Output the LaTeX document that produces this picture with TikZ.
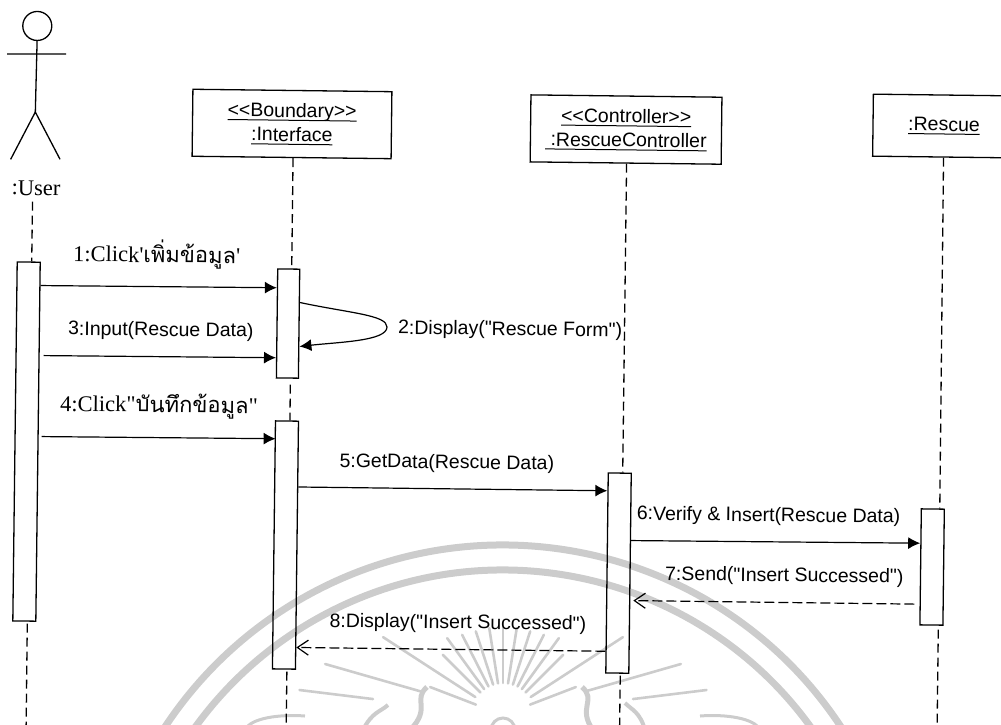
\documentclass[tikz,border=0pt]{standalone}
\usepackage{fontspec}
\usetikzlibrary{arrows.meta,calc}
\newfontfamily\umlfont{Liberation Sans}
\newfontfamily\actfont{Liberation Serif}
\newfontfamily\thaifont[Script=Thai]{Loma}
\newsavebox\namebox
\newcommand{\objname}[1]{\sbox\namebox{#1}\rlap{\rule[-3.5pt]{\wd\namebox}{1pt}}\usebox\namebox}

\tikzset{
  objbox/.style={draw, line width=1.3pt, align=center, inner sep=0pt, font=\umlfont\fontsize{19.5}{24}\selectfont},
  actbar/.style={draw, line width=1.3pt, minimum width=23pt, inner sep=0pt},
  msg/.style={line width=1.2pt, -{Latex[length=12pt,width=12pt]}},
  reply/.style={line width=1.2pt, dash pattern=on 10pt off 4pt, -{Straight Barb[length=11pt,width=15pt]}},
  life/.style={line width=1.3pt, dash pattern=on 9pt off 5pt},
  stick/.style={line width=1.3pt},
  msglabel/.style={font=\umlfont\fontsize{19.5}{24}\selectfont, inner sep=0pt},
  actlabel/.style={font=\actfont\fontsize{22.5}{26}\selectfont, inner sep=0pt},
  seal/.style={color=black!20, line width=7pt},
  sealray/.style={color=black!20, line width=2.6pt, line cap=round},
}

\begin{document}
\begin{tikzpicture}[x=1pt,y=-1pt]
  \useasboundingbox (0,0) rectangle (1001,724);
  \clip (0,0) rectangle (1001,724);

  % seal behind the diagram
  \coordinate (sealcentre) at (503,950);
  \coordinate (sun) at (503,715);
  \draw[seal] (sealcentre) ++(-30:405) arc (-30:-150:405);
  \draw[seal] (sealcentre) ++(-30:380) arc (-30:-150:380);
  \foreach \a/\ri/\ro in {-90/32/88,-81/32/88,-72/32/88,-63/32/90,-54/32/95,-45/32/85,
                          -99/32/88,-108/32/88,-117/32/90,-126/32/95,-135/32/85,
                          -147/33/143,-33/33/143,-159/29/78,-21/29/78,-164/86/185,-16/86/185,-173/131/205,-7/131/205} {
    \draw[sealray] (sun) ++(\a:\ri) -- ++(\a:\ro-\ri);
  }
  \draw[seal, line width=3pt] (491,730) arc (180:360:12);
  \draw[seal, line width=5pt] (427,687) .. controls (412,700) and (432,708) .. (410,730);
  \draw[seal, line width=5pt] (582,687) .. controls (597,700) and (577,708) .. (593,730);
  \draw[seal, line width=4pt] (388,705) .. controls (380,712) and (372,712) .. (363,730);
  \draw[seal, line width=4pt] (625,703) .. controls (632,710) and (640,712) .. (645,730);
  \draw[seal, line width=3pt] (245,730) .. controls (250,718) and (280,714) .. (305,716);
  \draw[seal, line width=3pt] (700,716) .. controls (725,714) and (755,718) .. (760,730);

  \begin{scope}[rotate=-0.7, every node/.append style={transform shape}]
    % actor
    \node[circle, draw, line width=1.3pt, minimum size=29pt, inner sep=0pt] (head) at (37.6,25.5) {};
    \coordinate (armL) at (7.7,54);
    \coordinate (armR) at (66.7,53.2);
    \coordinate (hip) at (36.7,111.6);
    \coordinate (legL) at (12.6,159.2);
    \coordinate (legR) at (62,158.6);
    \draw[stick] (armL) -- (armR);
    \draw[stick] (head.south) -- (hip);
    \draw[stick] (legL) -- (hip) -- (legR);
    \node[actlabel] (userlabel) at (38.3,187.6) {:User};

    % objects
    \node[objbox, minimum width=199pt, minimum height=67pt] (iface) at (293.5,120.4) {\objname{<<Boundary>>}\\\objname{:Interface}};
    \node[objbox, minimum width=191pt, minimum height=67pt] (ctrl) at (627.6,121.9) {\objname{<<Controller>>}\\\objname{\ :RescueController}};
    \node[objbox, minimum width=142pt, minimum height=62pt] (rescue) at (945.5,114.5) {\objname{:Rescue}};

    % activation bars
    \node[actbar, minimum height=359pt] (userbar) at (31.9,441.2) {};
    \node[actbar, minimum width=22pt, minimum height=109pt] (ifacebarA) at (292,320) {};
    \node[actbar, minimum height=248pt] (ifacebarB) at (292.1,541.5) {};
    \node[actbar, minimum height=200pt] (ctrlbar) at (625.5,565.5) {};
    \node[actbar, minimum height=116pt] (rescuebar) at (939,555.6) {};

    % lifelines
    \coordinate (userend) at (35,740);
    \coordinate (ifaceend) at (295,740);
    \coordinate (ctrlend) at (628.5,740);
    \coordinate (rescueend) at (946,740);
    \draw[life] ($(userlabel.south)+(-3.3,6)$) -- ($(userbar.north)+(3,0)$);
    \draw[life] ($(userbar.south)+(3,2)$) -- (userend);
    \draw[life] ($(iface.south)+(1.5,0)$) -- ($(ifacebarA.north)+(3,0)$);
    \draw[life] ($(ifacebarA.south)+(3,6)$) -- ($(ifacebarB.north)+(3,0)$);
    \draw[life] ($(ifacebarB.south)+(3,2)$) -- (ifaceend);
    \draw[life] ($(ctrl.south)+(1,0)$) -- ($(ctrlbar.north)+(3,0)$);
    \draw[life] ($(ctrlbar.south)+(3,2)$) -- (ctrlend);
    \draw[life] (rescue.south) -- ($(rescuebar.north)+(7,0)$);
    \draw[life] ($(rescuebar.south)+(7,4)$) -- (rescueend);

    % messages
    \draw[msg] ($(userbar.north east)+(0,24)$) -- ($(ifacebarA.north west)+(0,19.5)$);
    \coordinate (selfturn) at (391,322.3);
    \draw[msg] ($(ifacebarA.north east)+(0,34)$) .. controls +(50,10) and +(0,-12) .. (selfturn)
      .. controls +(0,14) and +(40,-5) .. ($(ifacebarA.north east)+(0,78)$);
    \draw[msg] ($(userbar.north east)+(4,94)$) -- ($(ifacebarA.north west)+(0,89.5)$);
    \draw[msg] ($(userbar.north east)+(3,175)$) -- ($(ifacebarB.north west)+(1,18.5)$);
    \draw[msg] ($(ifacebarB.north east)+(0,66.5)$) -- ($(ctrlbar.north west)+(0,18.5)$);
    \draw[msg] ($(ctrlbar.north east)+(0,68)$) -- ($(rescuebar.north west)+(0,35)$);
    \draw[reply] ($(rescuebar.north west)+(-5,96)$) -- ($(ctrlbar.north east)+(3,128)$);
    \draw[reply] ($(ctrlbar.north west)+(0,179)$) -- ($(ifacebarB.north east)+(0,227)$);

    % message labels
    \node[actlabel, anchor=west] (clickA) at (76,252) {1:Click'{\thaifont\fontsize{22}{24}\selectfont เพิ่มข้อมูล}'};
    \node[msglabel, anchor=west] (display) at (402,324) {2:Display("Rescue Form")};
    \node[msglabel, anchor=west] (inputlabel) at (72,329) {3:Input(Rescue Data)};
    \node[actlabel, anchor=west] (clickB) at (65,404) {4:Click"{\thaifont\fontsize{22}{24}\selectfont บันทึกข้อมูล}"};
    \node[msglabel, anchor=west] (getdata) at (345,458) {5:GetData(Rescue Data)};
    \node[msglabel, anchor=west] (verify) at (643,507) {6:Verify \& Insert(Rescue Data)};
    \node[msglabel, anchor=west] (sendlabel) at (672,567) {7:Send("Insert Successed")};
    \node[msglabel, anchor=west] (displayB) at (337,618) {8:Display("Insert Successed")};
  \end{scope}
\end{tikzpicture}
\end{document}
